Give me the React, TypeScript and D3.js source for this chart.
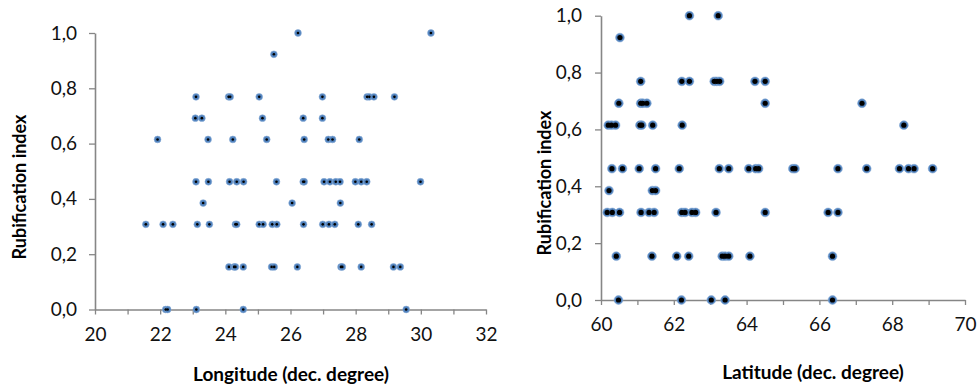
import React, { useEffect, useRef } from "react";
import * as d3 from "d3";

// Longitude chart (left)
const lonX = [
  26.23, 30.31,
  25.49,
  23.10, 24.10, 24.15, 25.04, 26.98, 28.35, 28.42, 28.56, 29.19,
  23.08, 23.28, 25.14, 26.39, 26.98,
  21.92, 23.47, 24.23, 25.27, 26.42, 27.16, 27.29, 28.11,
  23.10, 23.48, 24.13, 24.35, 24.56, 25.57, 26.39, 26.42, 27.03, 27.21, 27.39, 27.52, 27.99, 28.17, 28.34, 29.99,
  23.32, 26.05, 27.53,
  21.56, 22.09, 22.39, 23.14, 23.51, 24.31, 24.35, 25.04, 25.16, 25.44, 25.58, 26.40, 26.99, 27.18, 27.36, 28.08, 28.49,
  24.11, 24.27, 24.31, 24.55, 25.42, 25.50, 26.21, 27.55, 27.59, 28.17, 29.16, 29.37,
  22.17, 22.23, 23.11, 24.55, 29.55
];
const lonY = [
  1.0, 1.0,
  0.923,
  0.769, 0.769, 0.769, 0.769, 0.769, 0.769, 0.769, 0.769, 0.769,
  0.692, 0.692, 0.692, 0.692, 0.692,
  0.615, 0.615, 0.615, 0.615, 0.615, 0.615, 0.615, 0.615,
  0.462, 0.462, 0.462, 0.462, 0.462, 0.462, 0.462, 0.462, 0.462, 0.462, 0.462, 0.462, 0.462, 0.462, 0.462, 0.462,
  0.385, 0.385, 0.385,
  0.308, 0.308, 0.308, 0.308, 0.308, 0.308, 0.308, 0.308, 0.308, 0.308, 0.308, 0.308, 0.308, 0.308, 0.308, 0.308, 0.308,
  0.154, 0.154, 0.154, 0.154, 0.154, 0.154, 0.154, 0.154, 0.154, 0.154, 0.154, 0.154,
  0, 0, 0, 0, 0
];

// Latitude chart (right)
const latX = [
  62.43, 63.22,
  60.52,
  61.09, 62.22, 62.43, 63.11, 63.18, 63.26, 64.23, 64.51,
  60.49, 61.09, 61.15, 61.26, 64.51, 67.17,
  60.20, 60.29, 60.40, 61.07, 61.12, 61.42, 62.23, 68.32,
  60.30, 60.59, 61.05, 61.50, 62.15, 63.25, 63.51, 64.06, 64.25, 64.33, 65.27, 65.33, 66.51, 67.30, 68.20, 68.45, 68.60, 69.11,
  60.22, 61.41, 61.50,
  60.17, 60.31, 60.51, 61.10, 61.32, 61.46, 62.22, 62.31, 62.50, 62.60, 63.16, 64.51, 66.24, 66.51,
  60.42, 61.40, 62.08, 62.41, 63.33, 63.41, 63.51, 64.09, 66.36,
  60.48, 62.21, 63.03, 63.41, 66.36
];
const latY = [
  1.0, 1.0,
  0.923,
  0.769, 0.769, 0.769, 0.769, 0.769, 0.769, 0.769, 0.769,
  0.692, 0.692, 0.692, 0.692, 0.692, 0.692,
  0.615, 0.615, 0.615, 0.615, 0.615, 0.615, 0.615, 0.615,
  0.462, 0.462, 0.462, 0.462, 0.462, 0.462, 0.462, 0.462, 0.462, 0.462, 0.462, 0.462, 0.462, 0.462, 0.462, 0.462, 0.462, 0.462,
  0.385, 0.385, 0.385,
  0.308, 0.308, 0.308, 0.308, 0.308, 0.308, 0.308, 0.308, 0.308, 0.308, 0.308, 0.308, 0.308, 0.308,
  0.154, 0.154, 0.154, 0.154, 0.154, 0.154, 0.154, 0.154, 0.154,
  0, 0, 0, 0, 0
];

const yTicks = [0, 0.2, 0.4, 0.6, 0.8, 1.0];
const yTitle = "Rubification index";

const FONT = "Lato, 'Open Sans', sans-serif";
const AXIS = "#868686";
const BLUE = "#4F81BD";

function drawScatter(svg, opts) {
  const g = svg.append("g");
  const x = d3.scaleLinear().domain(opts.xDomain).range(opts.xRange);
  const y = d3.scaleLinear().domain([0, 1]).range(opts.yRange);
  const fmt = (v) => d3.format(".1f")(v).replace(".", ",");

  const yAxis = g.append("g")
    .attr("transform", "translate(" + opts.xRange[0] + ",0)")
    .call(d3.axisLeft(y).tickValues(yTicks).tickFormat(fmt).tickSize(6).tickSizeOuter(0).tickPadding(opts.yPad));

  const xt = d3.range(opts.xDomain[0], opts.xDomain[1] + 1, 1);
  const xAxis = g.append("g")
    .attr("transform", "translate(0," + opts.yRange[0] + ")")
    .call(d3.axisBottom(x).tickValues(xt)
      .tickFormat((d) => (d % 2 === 0 ? String(d) : ""))
      .tickSize(5).tickSizeOuter(0).tickPadding(13));

  [yAxis, xAxis].forEach((a) => {
    a.select(".domain").attr("stroke", AXIS).attr("stroke-width", 1.6);
    a.selectAll(".tick line").attr("stroke", AXIS).attr("stroke-width", 1.3);
    a.selectAll("text").attr("fill", "#111").style("font-family", FONT).style("font-size", "19px");
  });

  const pts = opts.xs.map((v, i) => ({ x: v, y: opts.ys[i] }));
  g.append("g").selectAll("circle").data(pts).enter().append("circle")
    .attr("cx", (d) => x(d.x)).attr("cy", (d) => y(d.y))
    .attr("r", opts.r).attr("fill", BLUE)
    .attr("stroke", "#8fb0d8").attr("stroke-width", 0.6);
  g.append("g").selectAll("circle").data(pts).enter().append("circle")
    .attr("cx", (d) => x(d.x)).attr("cy", (d) => y(d.y))
    .attr("r", opts.dot).attr("fill", "#000");

  g.append("text")
    .attr("transform", "translate(" + opts.yTitleX + "," + opts.yTitleY + ") rotate(-90)")
    .attr("text-anchor", "middle")
    .attr("dy", "0.35em")
    .style("font-family", FONT).style("font-size", "18px").style("font-weight", "bold")
    .text(yTitle);

  g.append("text")
    .attr("x", opts.xTitleX).attr("y", opts.xTitleY)
    .attr("text-anchor", "middle")
    .style("font-family", FONT).style("font-size", "19px").style("font-weight", "bold")
    .text(opts.xTitle);
}

export default function App() {
  const ref = useRef(null);

  useEffect(() => {
    const svg = d3.select(ref.current);
    svg.selectAll("*").remove();
    drawScatter(svg, {
      xs: lonX, ys: lonY,
      xDomain: [20, 32], xRange: [95, 486], yRange: [309.5, 33],
      r: 3.4, dot: 1.3, yPad: 12,
      yTitleX: 20, yTitleY: 187, xTitleX: 291, xTitleY: 381,
      xTitle: "Longitude (dec. degree)"
    });
    drawScatter(svg, {
      xs: latX, ys: latY,
      xDomain: [60, 70], xRange: [601, 965], yRange: [300, 15.7],
      r: 4.4, dot: 2.6, yPad: 13,
      yTitleX: 545, yTitleY: 183, xTitleX: 813, xTitleY: 379,
      xTitle: "Latitude (dec. degree)"
    });
  }, []);

  return (
    <div style={{ position: "absolute", left: 0, top: 0 }}>
      <svg ref={ref} width={979} height={387} style={{ display: "block", background: "#fff" }}></svg>
    </div>
  );
}
